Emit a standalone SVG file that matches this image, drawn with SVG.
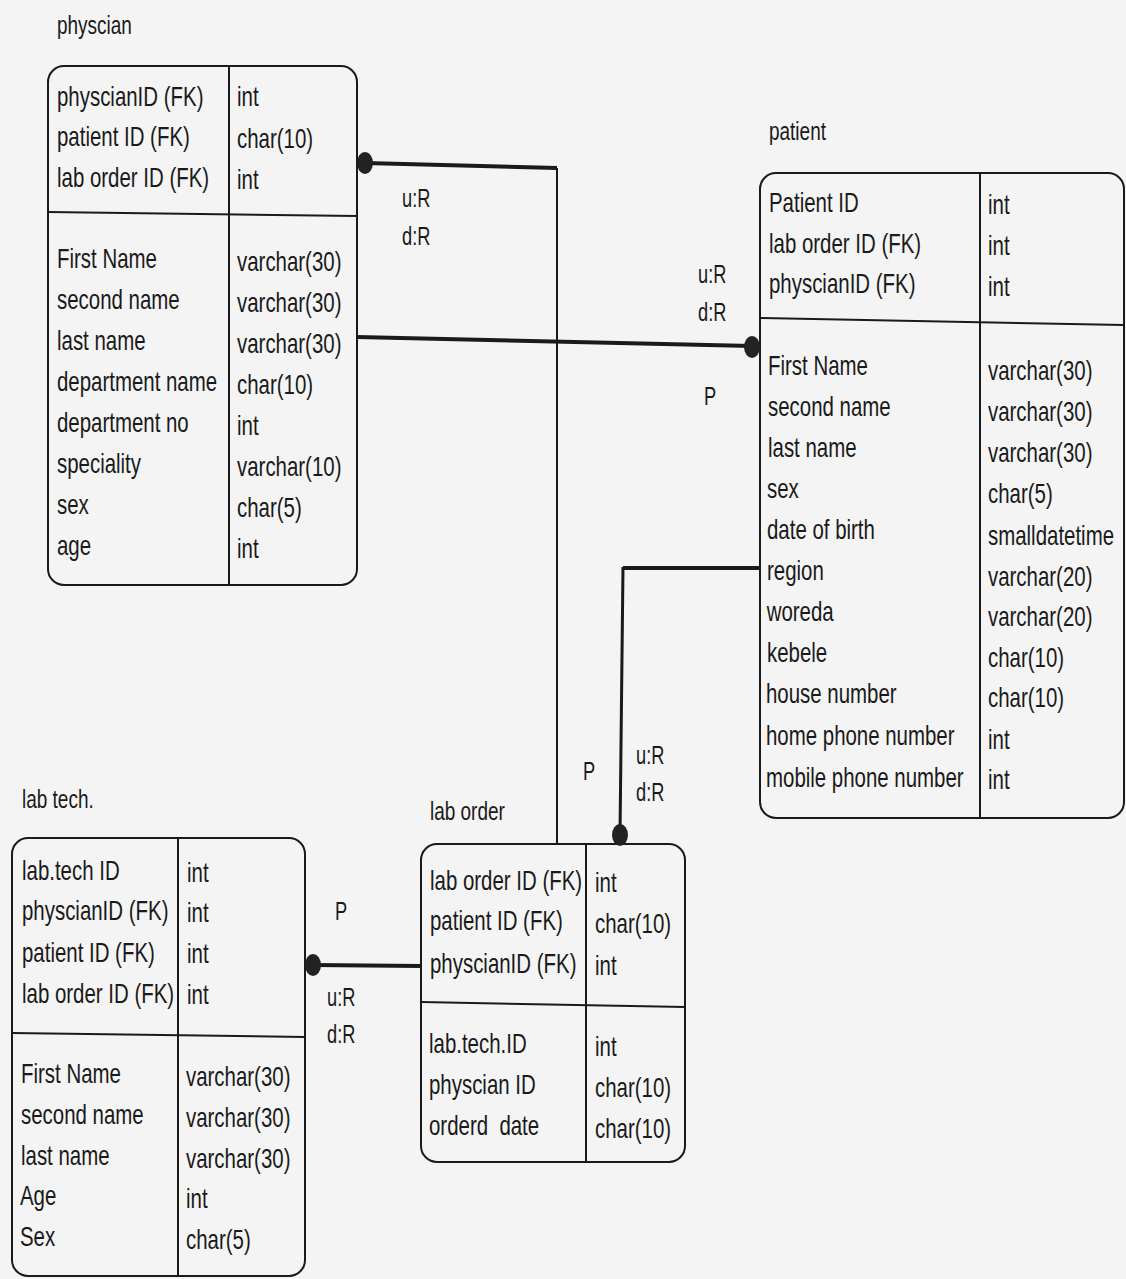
<svg xmlns="http://www.w3.org/2000/svg" width="1126" height="1279" viewBox="0 0 1126 1279">
  <style>
    text { font-family: "Liberation Sans", Arial, sans-serif; fill: #1a1a1a;
           transform-box: fill-box; transform-origin: 0 50%; transform: scaleX(0.73); }
    .t { font-size: 28px; }
    .lbl { font-size: 25px; }
    .ttl { font-size: 26px; }
    .box { fill: none; stroke: #1a1a1a; stroke-width: 2; }
    .div { stroke: #1a1a1a; stroke-width: 2; fill: none; }
    .thick { stroke: #1a1a1a; stroke-width: 4; fill: none; }
    .thin { stroke: #1a1a1a; stroke-width: 2; fill: none; }
    .dot { fill: #222; }
  </style>
  <rect width="1126" height="1279" fill="#f4f4f4"/>

  <!-- physician table -->
  <g id="physcian">
    <text class="ttl" x="57" y="34">physcian</text>
    <rect class="box" x="48" y="66" width="309" height="519" rx="16"/>
    <line class="div" x1="229" y1="66" x2="229" y2="585"/>
    <line class="div" x1="48" y1="212" x2="357" y2="216"/>
    <text class="t" x="57" y="106">physcianID (FK)</text>
    <text class="t" x="57" y="146">patient ID (FK)</text>
    <text class="t" x="57" y="187">lab order ID (FK)</text>
    <text class="t" x="237" y="106">int</text>
    <text class="t" x="237" y="148">char(10)</text>
    <text class="t" x="237" y="189">int</text>
    <text class="t" x="57" y="268">First Name</text>
    <text class="t" x="57" y="309">second name</text>
    <text class="t" x="57" y="350">last name</text>
    <text class="t" x="57" y="391">department name</text>
    <text class="t" x="57" y="432">department no</text>
    <text class="t" x="57" y="473">speciality</text>
    <text class="t" x="57" y="514">sex</text>
    <text class="t" x="57" y="555">age</text>
    <text class="t" x="237" y="271">varchar(30)</text>
    <text class="t" x="237" y="312">varchar(30)</text>
    <text class="t" x="237" y="353">varchar(30)</text>
    <text class="t" x="237" y="394">char(10)</text>
    <text class="t" x="237" y="435">int</text>
    <text class="t" x="237" y="476">varchar(10)</text>
    <text class="t" x="237" y="517">char(5)</text>
    <text class="t" x="237" y="558">int</text>
  </g>

  <!-- patient table -->
  <g id="patient">
    <text class="ttl" x="769" y="140">patient</text>
    <rect class="box" x="760" y="173" width="364" height="645" rx="16"/>
    <line class="div" x1="980" y1="173" x2="980" y2="818"/>
    <line class="div" x1="760" y1="318" x2="1124" y2="325"/>
    <text class="t" x="769" y="212">Patient ID</text>
    <text class="t" x="769" y="253">lab order ID (FK)</text>
    <text class="t" x="769" y="293">physcianID (FK)</text>
    <text class="t" x="988" y="214">int</text>
    <text class="t" x="988" y="255">int</text>
    <text class="t" x="988" y="296">int</text>
    <text class="t" x="768" y="375">First Name</text>
    <text class="t" x="768" y="416">second name</text>
    <text class="t" x="768" y="457">last name</text>
    <text class="t" x="767" y="498">sex</text>
    <text class="t" x="767" y="539">date of birth</text>
    <text class="t" x="767" y="580">region</text>
    <text class="t" x="767" y="621">woreda</text>
    <text class="t" x="767" y="662">kebele</text>
    <text class="t" x="766" y="703">house number</text>
    <text class="t" x="766" y="745">home phone number</text>
    <text class="t" x="766" y="787">mobile phone number</text>
    <text class="t" x="988" y="380">varchar(30)</text>
    <text class="t" x="988" y="421">varchar(30)</text>
    <text class="t" x="988" y="462">varchar(30)</text>
    <text class="t" x="988" y="503">char(5)</text>
    <text class="t" x="988" y="545">smalldatetime</text>
    <text class="t" x="988" y="586">varchar(20)</text>
    <text class="t" x="988" y="626">varchar(20)</text>
    <text class="t" x="988" y="667">char(10)</text>
    <text class="t" x="988" y="707">char(10)</text>
    <text class="t" x="988" y="749">int</text>
    <text class="t" x="988" y="789">int</text>
  </g>

  <!-- lab order table -->
  <g id="lab-order">
    <text class="ttl" x="430" y="820">lab order</text>
    <rect class="box" x="421" y="844" width="264" height="318" rx="16"/>
    <line class="div" x1="586" y1="844" x2="586" y2="1162"/>
    <line class="div" x1="421" y1="1002" x2="685" y2="1007"/>
    <text class="t" x="430" y="890">lab order ID (FK)</text>
    <text class="t" x="430" y="930">patient ID (FK)</text>
    <text class="t" x="430" y="973">physcianID (FK)</text>
    <text class="t" x="595" y="892">int</text>
    <text class="t" x="595" y="933">char(10)</text>
    <text class="t" x="595" y="975">int</text>
    <text class="t" x="429" y="1053">lab.tech.ID</text>
    <text class="t" x="429" y="1094">physcian ID</text>
    <text class="t" x="429" y="1135" style="white-space:pre">orderd  date</text>
    <text class="t" x="595" y="1056">int</text>
    <text class="t" x="595" y="1097">char(10)</text>
    <text class="t" x="595" y="1138">char(10)</text>
  </g>

  <!-- lab tech table -->
  <g id="lab-tech">
    <text class="ttl" x="22" y="808">lab tech.</text>
    <rect class="box" x="12" y="838" width="293" height="438" rx="16"/>
    <line class="div" x1="178" y1="838" x2="178" y2="1276"/>
    <line class="div" x1="12" y1="1033" x2="305" y2="1037"/>
    <text class="t" x="22" y="880">lab.tech ID</text>
    <text class="t" x="22" y="920">physcianID (FK)</text>
    <text class="t" x="22" y="962">patient ID (FK)</text>
    <text class="t" x="22" y="1003">lab order ID (FK)</text>
    <text class="t" x="187" y="882">int</text>
    <text class="t" x="187" y="922">int</text>
    <text class="t" x="187" y="963">int</text>
    <text class="t" x="187" y="1004">int</text>
    <text class="t" x="21" y="1083">First Name</text>
    <text class="t" x="21" y="1124">second name</text>
    <text class="t" x="21" y="1165">last name</text>
    <text class="t" x="20" y="1205">Age</text>
    <text class="t" x="20" y="1246">Sex</text>
    <text class="t" x="186" y="1086">varchar(30)</text>
    <text class="t" x="186" y="1127">varchar(30)</text>
    <text class="t" x="186" y="1168">varchar(30)</text>
    <text class="t" x="186" y="1208">int</text>
    <text class="t" x="186" y="1249">char(5)</text>
  </g>

  <!-- relationships -->
  <g id="connectors">
    <!-- physcian to lab order -->
    <line class="thick" x1="365" y1="163" x2="557" y2="168"/>
    <line class="thin" x1="557" y1="168" x2="557" y2="844"/>
    <ellipse class="dot" cx="365" cy="163" rx="8" ry="11"/>
    <text class="lbl" x="402" y="207">u:R</text>
    <text class="lbl" x="402" y="245">d:R</text>
    <text class="lbl" x="583" y="780">P</text>

    <!-- physcian to patient -->
    <line class="thick" x1="357" y1="337" x2="752" y2="346"/>
    <ellipse class="dot" cx="752" cy="347" rx="8" ry="11"/>
    <text class="lbl" x="698" y="283">u:R</text>
    <text class="lbl" x="698" y="321">d:R</text>
    <text class="lbl" x="704" y="405">P</text>

    <!-- patient to lab order -->
    <line class="thick" x1="760" y1="568" x2="623" y2="568"/>
    <line class="thin" x1="623" y1="567" x2="620" y2="835" style="stroke-width:3"/>
    <ellipse class="dot" cx="620" cy="835" rx="8" ry="11"/>
    <text class="lbl" x="636" y="764">u:R</text>
    <text class="lbl" x="636" y="801">d:R</text>

    <!-- lab order to lab tech -->
    <line class="thick" x1="421" y1="966" x2="313" y2="965"/>
    <ellipse class="dot" cx="313" cy="965" rx="8" ry="11"/>
    <text class="lbl" x="335" y="920">P</text>
    <text class="lbl" x="327" y="1006">u:R</text>
    <text class="lbl" x="327" y="1043">d:R</text>
  </g>
</svg>
